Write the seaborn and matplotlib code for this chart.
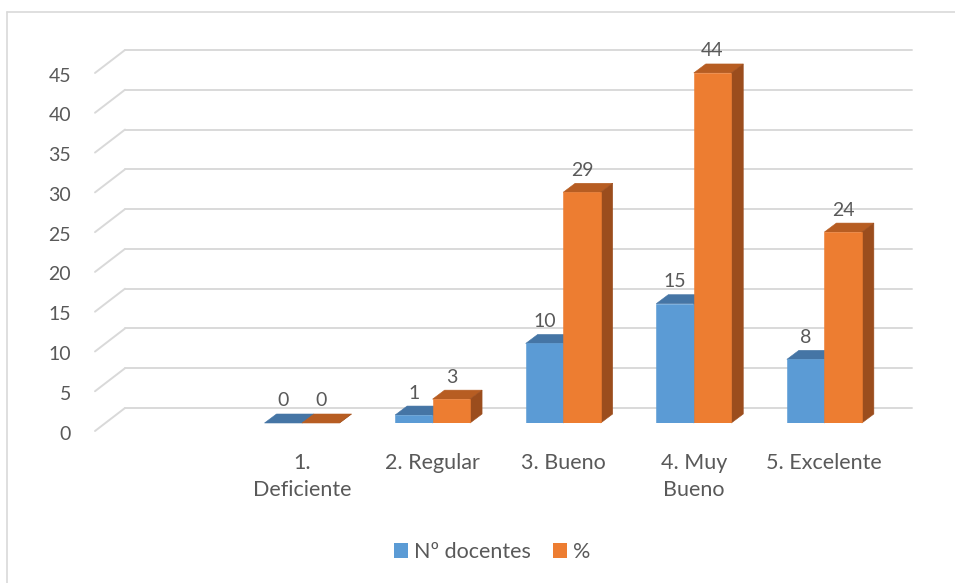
import pandas as pd
import seaborn as sns
import matplotlib.pyplot as plt
from matplotlib.patches import Polygon, Patch
from matplotlib.lines import Line2D
from matplotlib import transforms

# Chart data
categorias = ["1.\nDeficiente", "2. Regular", "3. Bueno", "4. Muy\nBueno", "5. Excelente"]
series = ["Nº docentes", "%"]
n_docentes = [0, 1, 10, 15, 8]
porcentaje = [0, 3, 29, 44, 24]
y_ticks = [0, 5, 10, 15, 20, 25, 30, 35, 40, 45]

# Colours: front faces, top faces, side faces
front = ["#5b9bd5", "#ed7d31"]
top = ["#4575a5", "#b75d22"]
side = ["#3f6a95", "#9b4d1d"]
text_col = "#595959"
grid_col = "#d9d9d9"

df = pd.DataFrame({
    "categoria": categorias * 2,
    "serie": [series[0]] * len(categorias) + [series[1]] * len(categorias),
    "valor": n_docentes + porcentaje,
})

sns.set_theme(style="white")
plt.rcParams["font.family"] = ["Lato", "DejaVu Sans"]

W, H = 955, 583
fig = plt.figure(figsize=(W / 100, H / 100), dpi=100)
ax = fig.add_axes([95 / W, 160 / H, 817 / W, 358 / H])

sns.barplot(data=df, x="categoria", y="valor", hue="serie", order=categorias,
            hue_order=series, palette=front, saturation=1, width=0.574,
            errorbar=None, legend=False, ax=ax, zorder=3)

ax.set_xlim(-1.585, 4.671)
ax.set_ylim(0, 45)
for s in ax.spines.values():
    s.set_visible(False)
ax.set_xlabel("")
ax.set_ylabel("")
ax.set_yticks([])
ax.tick_params(axis="x", length=0, pad=21.5, labelsize=15.5, labelcolor=text_col)
for lab in ax.get_xticklabels():
    lab.set_linespacing(1.45)

# pixel scale of the data axes
p0 = ax.transData.transform((0, 0))
p1 = ax.transData.transform((1, 1))
ppx, ppy = p1[0] - p0[0], p1[1] - p0[1]

# bar depth (pixels right / up)
dx, dy = 12 / ppx, 9 / ppy

# back wall gridlines and left floor diagonals
blend = transforms.blended_transform_factory(ax.transAxes, ax.transData)
back_shift = 15 / ppy
front_shift = 8 / ppy
wall_x = 30 / 817
for v in y_ticks:
    ax.plot([wall_x, 1.0], [v + back_shift] * 2, transform=blend, color=grid_col,
            lw=1.4, zorder=0.5, clip_on=False)
    ax.plot([0, wall_x], [v - front_shift, v + back_shift], transform=blend,
            color=grid_col, lw=1.4, zorder=0.5, clip_on=False)
    ax.annotate(str(v), xy=(0, v - front_shift), xycoords=blend, xytext=(-24, -3),
                textcoords="offset pixels", ha="right", va="center",
                fontsize=14, color=text_col, annotation_clip=False)

# 3-D top and side faces for each bar, plus value labels
bars = list(ax.patches)
n = len(categorias)
for i, p in enumerate(bars):
    k = i // n
    x0 = p.get_x()
    w = p.get_width()
    h = p.get_height()
    x1 = x0 + w
    z = 1.5 + k * 0.5
    ax.add_patch(Polygon([(x0, h), (x1, h), (x1 + dx, h + dy), (x0 + dx, h + dy)],
                         closed=True, facecolor=top[k], edgecolor=top[k], lw=0.4,
                         zorder=z, clip_on=False))
    ax.add_patch(Polygon([(x1, 0), (x1 + dx, dy), (x1 + dx, h + dy), (x1, h)],
                         closed=True, facecolor=side[k], edgecolor=side[k], lw=0.4,
                         zorder=z, clip_on=False))
    p.set_edgecolor(front[k])
    p.set_linewidth(0.4)
    ax.annotate(f"{h:g}", xy=(x0 + w / 2, h), xytext=(0, 22),
                textcoords="offset pixels", ha="center", va="center",
                fontsize=14, color=text_col, annotation_clip=False)

# legend
handles = [Patch(facecolor=c, edgecolor="none") for c in front]
fig.legend(handles, series, loc="center", bbox_to_anchor=(492 / W, 1 - 552 / H),
           ncol=2, frameon=False, fontsize=15.5, labelcolor=text_col,
           handlelength=0.65, handleheight=0.65, handletextpad=0.3,
           columnspacing=1.0)

# chart frame (top and left edges)
fig.add_artist(Line2D([7 / W, 1], [1 - 12 / H] * 2, transform=fig.transFigure,
                      color=grid_col, lw=1.2))
fig.add_artist(Line2D([7 / W] * 2, [0, 1 - 12 / H], transform=fig.transFigure,
                      color=grid_col, lw=1.2))

fig.savefig("out.png", dpi=100)
